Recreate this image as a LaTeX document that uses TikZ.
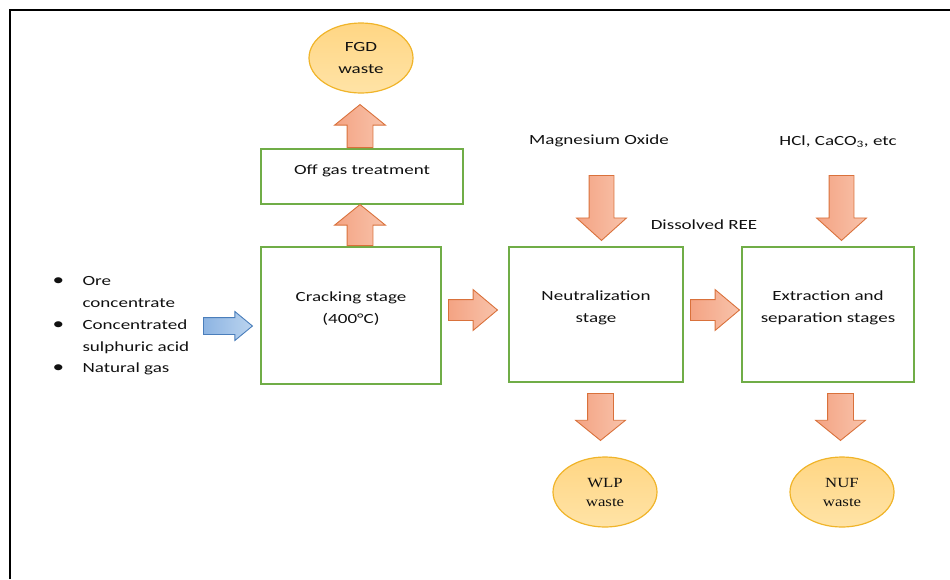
\documentclass[tikz,border=0pt]{standalone}
\usepackage{fontspec}
\setmainfont{Carlito}[FakeStretch=1.36]
\newfontfamily\wastefont{Liberation Serif}[FakeStretch=1.2]
\usetikzlibrary{shapes.geometric,shapes.arrows}

\definecolor{stagegreen}{HTML}{70AD47}
\definecolor{textgray}{HTML}{111111}
\definecolor{arrowedge}{HTML}{D9713B}
\definecolor{arrowdark}{HTML}{F4A383}
\definecolor{arrowlight}{HTML}{F8C3AB}
\definecolor{blueedge}{HTML}{4A7EBB}
\definecolor{bluedark}{HTML}{8DB4E2}
\definecolor{bluelight}{HTML}{BBD4EF}
\definecolor{wasteedge}{HTML}{F0B429}
\definecolor{wastetop}{HTML}{FFD684}
\definecolor{wastebottom}{HTML}{FFE3A6}

\newcommand{\listbullet}{\makebox[30pt][l]{{\fontsize{17}{17}\selectfont\textbullet}}}

\begin{document}
\begin{tikzpicture}[x=1pt,y=-1pt,
		every node/.style={font=\fontsize{14}{22}\selectfont, text=textgray},
		stage/.style 2 args={draw=stagegreen, line width=1.2pt, minimum width=#1pt, minimum height=#2pt, inner sep=0pt},
		waste/.style={ellipse, draw=wasteedge, line width=1.2pt, top color=wastetop, bottom color=wastebottom,
			minimum width=104pt, minimum height=70pt, inner sep=0pt, align=center},
		fat/.style n args={4}{single arrow, draw=arrowedge, line width=.9pt, left color=arrowdark, right color=arrowlight,
			inner sep=0pt, inner ysep=#2pt, minimum height=#1pt, minimum width=0pt, anchor=tail,
			single arrow head extend=#3pt, single arrow tip angle=#4, single arrow head indent=0pt},
		feed/.style={fat={49}{8}{6}{79}, draw=blueedge, left color=bluedark, right color=bluelight}
	]
	\useasboundingbox (0,0) rectangle (950,579);
	\draw[line width=2.5pt] (10,579) -- (10,10) -- (950,10);

	% stages
	\node[stage={202}{55}] (offgas) at (362,176.5) {};
	\node[stage={180}{137}] (crack) at (351,315.5) {};
	\node[stage={174}{135}] (neut) at (596,314.5) {};
	\node[stage={172}{135}] (extr) at (828,314.5) {};
	\node (offgas-text) at (362,171) {Off gas treatment};
	\node[align=center] (crack-text) at (351,309) {Cracking stage\\(400°C)};
	\node[align=center] (neut-text) at (596,308) {Neutralization\\stage};
	\node[align=center] (extr-text) at (828,308) {Extraction and\\separation stages};

	% wastes
	\node[waste] (fgd) at (361,58) {FGD\\waste};
	\node[waste, font=\wastefont\fontsize{14}{19}\selectfont] (wlp) at (605,492) {WLP\\waste};
	\node[waste, font=\wastefont\fontsize{14}{19}\selectfont] (nuf) at (842,492) {NUF\\waste};

	% inputs
	\node[anchor=west, align=left, font=\fontsize{14}{21.75}\selectfont] (feedlist) at (49,326)
		{\listbullet Ore\\\hspace*{30pt}concentrate\\\listbullet Concentrated\\\hspace*{30pt}sulphuric acid\\\listbullet Natural gas};
	\node (mgo) at (599,141) {Magnesium Oxide};
	\node (hcl) at (838,142) {HCl, CaCO\textsubscript{3}, etc};
	\node (ree) at (704,225) {Dissolved REE};

	% block arrows
	\node[feed] (a-feed) at (203,326) {};
	\node[fat={43}{12.5}{12.5}{102}, rotate=90] (a-up1) at (360,148) {};
	\node[fat={41}{12.5}{12.5}{102}, rotate=90] (a-up2) at (360,246) {};
	\node[fat={49}{10}{10}{80}] (a-right1) at (448,310) {};
	\node[fat={49}{10}{10}{80}] (a-right2) at (690,310) {};
	\node[fat={65}{12}{12.5}{96}, rotate=-90] (a-down1) at (601.5,175) {};
	\node[fat={65}{12}{12.5}{96}, rotate=-90] (a-down2) at (841.5,175) {};
	\node[fat={47}{12.5}{12}{102}, rotate=-90] (a-down3) at (600.5,393) {};
	\node[fat={47}{12.5}{12}{102}, rotate=-90] (a-down4) at (840.5,393) {};
\end{tikzpicture}
\end{document}
